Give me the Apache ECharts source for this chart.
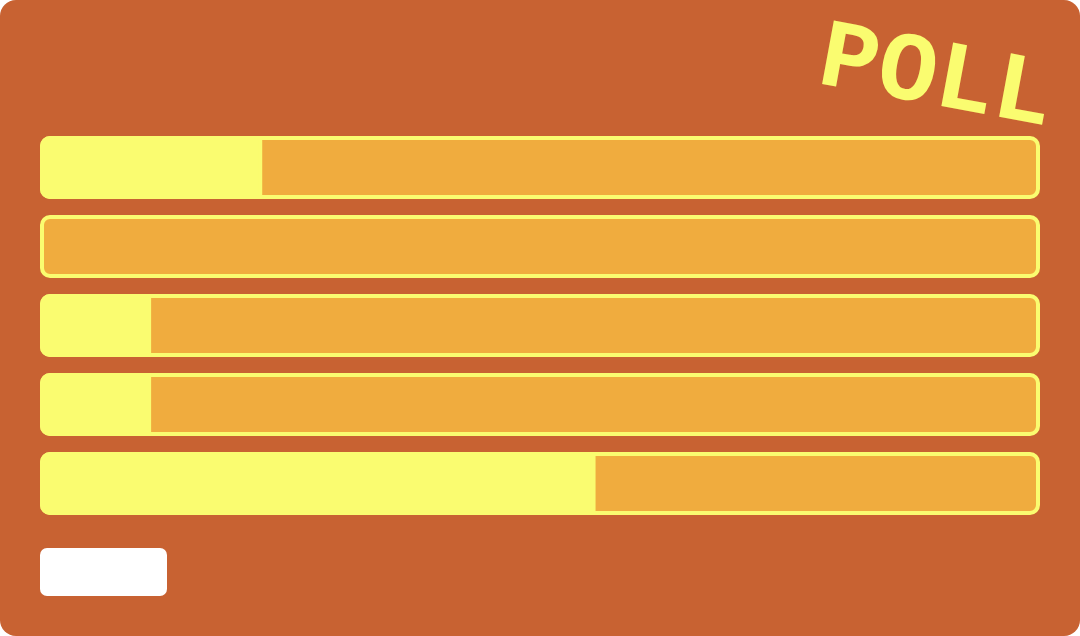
<!DOCTYPE html>
<html>
<head>
    <title>Poll</title>
    <meta charset="utf-8">
    <script src="https://cdn.jsdelivr.net/npm/echarts@6/dist/echarts.min.js"></script>
    <style>
        html, body { margin: 0; padding: 0; background: #ffffff; }
        #main { width: 1080px; height: 636px; }
    </style>
</head>
<body>
    <div id="main"></div>
    <script type="text/javascript">
        // poll options and how many votes each one got
        var options = ['Option 1', 'Option 2', 'Option 3', 'Option 4', 'Option 5'];
        var votes = [2, 0, 1, 1, 5];
        var title = 'POLL';

        var total = votes.reduce(function(a, b) { return a + b; }, 0);
        var totals = options.map(function() { return total; });
        // a zero-width bar would still draw its border, so leave it empty
        var shown = votes.map(function(v) { return v === 0 ? '-' : v; });

        var bg = '#C86232';
        var track = '#F0AC3E';
        var yellow = '#FAFC70';

        var myChart = echarts.init(document.getElementById('main'));

        var option = {
            animation: false,
            backgroundColor: 'transparent',
            graphic: [{
                type: 'rect',
                z: -10,
                shape: { x: 0, y: 0, width: 1080, height: 636, r: 16 },
                style: { fill: bg }
            }, {
                // empty button under the bars
                type: 'rect',
                shape: { x: 40, y: 548, width: 127, height: 48, r: 7 },
                style: { fill: '#ffffff' }
            }, {
                type: 'text',
                x: 936,
                y: 80,
                rotation: -0.183,
                style: {
                    text: title,
                    fill: yellow,
                    font: 'bold 98px "Liberation Mono", "DejaVu Sans Mono", monospace',
                    align: 'center',
                    verticalAlign: 'middle'
                }
            }],
            grid: {
                left: 40,
                right: 40,
                top: 128,
                bottom: 113
            },
            xAxis: {
                type: 'value',
                min: 0,
                max: total,
                show: false
            },
            yAxis: {
                type: 'category',
                data: options,
                inverse: true,
                show: false
            },
            series: [{
                // full track
                name: 'track',
                type: 'bar',
                data: totals,
                barWidth: 63,
                barGap: '-100%',
                silent: true,
                itemStyle: {
                    color: track,
                    borderColor: yellow,
                    borderWidth: 4,
                    borderRadius: 8
                }
            }, {
                // share of the votes
                name: 'votes',
                type: 'bar',
                data: shown,
                barWidth: 63,
                itemStyle: {
                    color: yellow,
                    borderColor: yellow,
                    borderWidth: 4,
                    borderRadius: [8, 0, 0, 8]
                }
            }]
        };

        myChart.setOption(option);
    </script>
</body>
</html>
